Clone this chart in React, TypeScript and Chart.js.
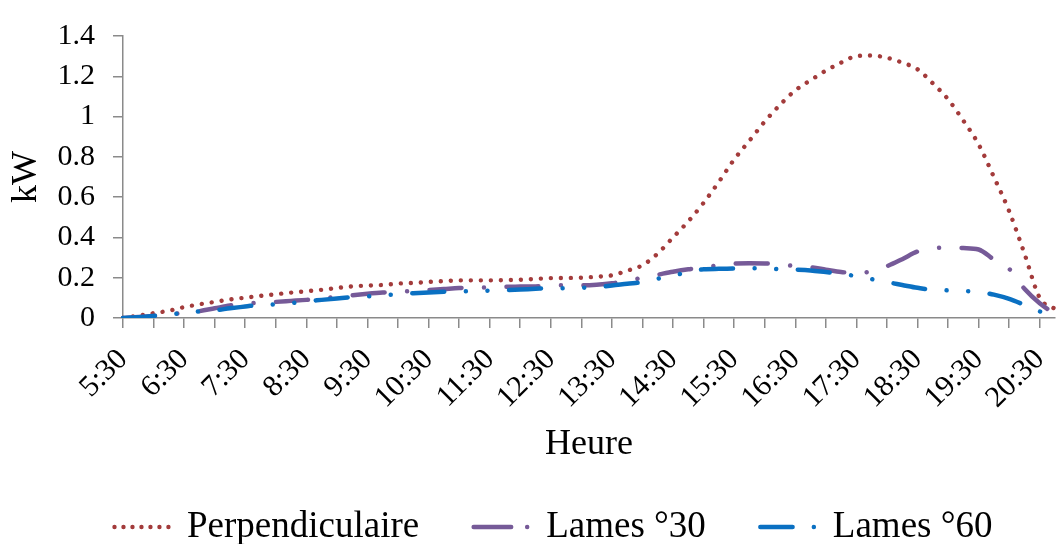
import React, { useEffect, useRef } from 'react';
import { Chart, registerables } from 'chart.js';

Chart.register(...registerables);

const timeLabels = [
  '5:30', '5:45', '6:00', '6:15', '6:30', '6:45', '7:00', '7:15', '7:30', '7:45',
  '8:00', '8:15', '8:30', '8:45', '9:00', '9:15', '9:30', '9:45', '10:00', '10:15',
  '10:30', '10:45', '11:00', '11:15', '11:30', '11:45', '12:00', '12:15', '12:30', '12:45',
  '13:00', '13:15', '13:30', '13:45', '14:00', '14:15', '14:30', '14:45', '15:00', '15:15',
  '15:30', '15:45', '16:00', '16:15', '16:30', '16:45', '17:00', '17:15', '17:30', '17:45',
  '18:00', '18:15', '18:30', '18:45', '19:00', '19:15', '19:30', '19:45', '20:00', '20:15',
  '20:30', '20:45',
];

const perpendiculaire = [
  0, 0.012, 0.024, 0.036, 0.054, 0.068, 0.08, 0.092, 0.101, 0.11,
  0.118, 0.126, 0.133, 0.14, 0.149, 0.157, 0.161, 0.164, 0.171, 0.174,
  0.179, 0.183, 0.187, 0.187, 0.187, 0.188, 0.19, 0.194, 0.198, 0.199,
  0.2, 0.205, 0.212, 0.235, 0.262, 0.32, 0.4, 0.48, 0.572, 0.676,
  0.787, 0.88, 0.975, 1.058, 1.13, 1.18, 1.228, 1.268, 1.3, 1.303,
  1.292, 1.268, 1.235, 1.165, 1.086, 0.98, 0.862, 0.7, 0.53, 0.32,
  0.1, 0.045,
];

const lames30 = [
  0, 0.005, 0.01, 0.018, 0.025, 0.034, 0.048, 0.062, 0.071, 0.076,
  0.08, 0.085, 0.09, 0.097, 0.105, 0.113, 0.12, 0.126, 0.13, 0.134,
  0.139, 0.144, 0.149, 0.151, 0.152, 0.155, 0.156, 0.157, 0.16, 0.163,
  0.162, 0.165, 0.172, 0.185, 0.2, 0.215, 0.23, 0.242, 0.25, 0.262,
  0.27, 0.272, 0.271, 0.265, 0.258, 0.252, 0.24, 0.228, 0.224, 0.232,
  0.257, 0.292, 0.33, 0.345, 0.35, 0.347, 0.34, 0.29, 0.244, 0.145,
  0.073, 0.02,
];

const lames60 = [
  0, 0.004, 0.01, 0.018, 0.025, 0.033, 0.038, 0.048, 0.057, 0.066,
  0.068, 0.074, 0.083, 0.09, 0.097, 0.104, 0.107, 0.112, 0.118, 0.123,
  0.127, 0.13, 0.132, 0.133, 0.136, 0.138, 0.141, 0.145, 0.148, 0.148,
  0.15, 0.154, 0.161, 0.17, 0.178, 0.195, 0.212, 0.226, 0.242, 0.244,
  0.246, 0.247, 0.247, 0.242, 0.24, 0.236, 0.228, 0.22, 0.207, 0.193,
  0.178, 0.164, 0.15, 0.14, 0.137, 0.134, 0.13, 0.116, 0.095, 0.065,
  0.033, 0,
];

const seriesNames = ['Perpendiculaire', 'Lames °30', 'Lames °60'];

export default function App() {
  const ref = useRef<HTMLCanvasElement>(null);

  useEffect(() => {
    const serif = "'Liberation Serif', 'Times New Roman', serif";
    const axisColor = '#8a8a8a';
    const widths = [4.4, 4.5, 4.5];
    const legendDash = [
      [0.01, 8.98],
      [37.5, 16, 0.01, 10],
      [32.25, 21.25, 0.01, 10],
    ];
    const chart = new Chart(ref.current as HTMLCanvasElement, {
      type: 'line',
      data: {
        labels: timeLabels,
        datasets: [
          {
            label: seriesNames[0],
            data: perpendiculaire,
            borderColor: '#A33B3B',
            backgroundColor: '#A33B3B',
            borderWidth: widths[0],
            borderDash: [0.01, 10],
            borderCapStyle: 'round',
            pointRadius: 0,
            cubicInterpolationMode: 'monotone',
            fill: false,
            order: 3,
          },
          {
            label: seriesNames[1],
            data: lames30,
            borderColor: '#765A98',
            backgroundColor: '#765A98',
            borderWidth: widths[1],
            borderDash: [32, 22.5, 0.01, 22.5],
            borderCapStyle: 'round',
            pointRadius: 0,
            cubicInterpolationMode: 'monotone',
            fill: false,
            order: 2,
          },
          {
            label: seriesNames[2],
            data: lames60,
            borderColor: '#0A70C2',
            backgroundColor: '#0A70C2',
            borderWidth: widths[2],
            borderDash: [32, 21.6, 0.01, 21.6, 0.01, 21.6],
            borderCapStyle: 'round',
            pointRadius: 0,
            cubicInterpolationMode: 'monotone',
            fill: false,
            order: 1,
          },
        ],
      },
      options: {
        responsive: false,
        animation: false,
        layout: { padding: { left: 52, right: 4, top: 26, bottom: 0 } },
        scales: {
          x: {
            border: { display: true, color: axisColor, width: 1.5 },
            grid: {
              drawOnChartArea: false,
              drawTicks: true,
              tickLength: 10,
              tickWidth: 1.5,
              lineWidth: 1.5,
              tickColor: (c: any) => (c.index % 2 === 0 ? axisColor : 'rgba(0,0,0,0)'),
            },
            ticks: {
              autoSkip: false,
              maxRotation: 45,
              minRotation: 45,
              padding: 14,
              color: '#000',
              font: { family: serif, size: 30 },
              callback: (_v: any, i: number) => (i % 4 === 0 ? timeLabels[i] : ''),
            },
            title: {
              display: true,
              text: 'Heure',
              color: '#000',
              font: { family: serif, size: 36 },
              padding: { top: 0, bottom: -12.3 },
            },
            afterFit: (s: any) => {
              s.height = 136;
              s.paddingLeft = 0;
              s.paddingRight = 0;
            },
          },
          y: {
            min: 0,
            max: 1.4,
            border: { display: true, color: axisColor, width: 1.5 },
            grid: {
              drawOnChartArea: false,
              drawTicks: true,
              tickLength: 10,
              tickWidth: 1.5,
              lineWidth: 1.5,
              tickColor: axisColor,
            },
            ticks: {
              stepSize: 0.2,
              padding: 18,
              color: '#000',
              font: { family: serif, size: 30 },
              callback: (v: any) => String(Math.round(Number(v) * 10) / 10),
            },
            title: {
              display: true,
              text: 'kW',
              color: '#000',
              font: { family: serif, size: 36 },
              padding: { top: -46.6, bottom: 0 },
            },
            afterFit: (s: any) => {
              s.width = 71;
            },
          },
        },
        plugins: {
          tooltip: { enabled: false },
          legend: {
            position: 'bottom',
            maxHeight: 90,
            labels: {
              usePointStyle: true,
              pointStyle: 'line',
              pointStyleWidth: 54,
              padding: 54.5,
              color: '#000',
              font: { family: serif, size: 37 },
              sort: (a: any, b: any) => a.datasetIndex - b.datasetIndex,
              generateLabels: (c: any) => {
                const items = (Chart.defaults.plugins.legend.labels as any).generateLabels(c);
                return items.map((it: any) => ({
                  ...it,
                  lineDash: legendDash[it.datasetIndex],
                  lineCap: 'round',
                  lineWidth: widths[it.datasetIndex],
                  strokeStyle: c.data.datasets[it.datasetIndex].borderColor,
                }));
              },
            },
          },
        },
      } as any,
    });
    return () => chart.destroy();
  }, []);

  return (
    <div style={{ position: 'absolute', left: 0, top: 0, width: 1059, height: 544, background: '#fff' }}>
      <canvas ref={ref} width={1059} height={544} style={{ display: 'block' }} />
    </div>
  );
}
